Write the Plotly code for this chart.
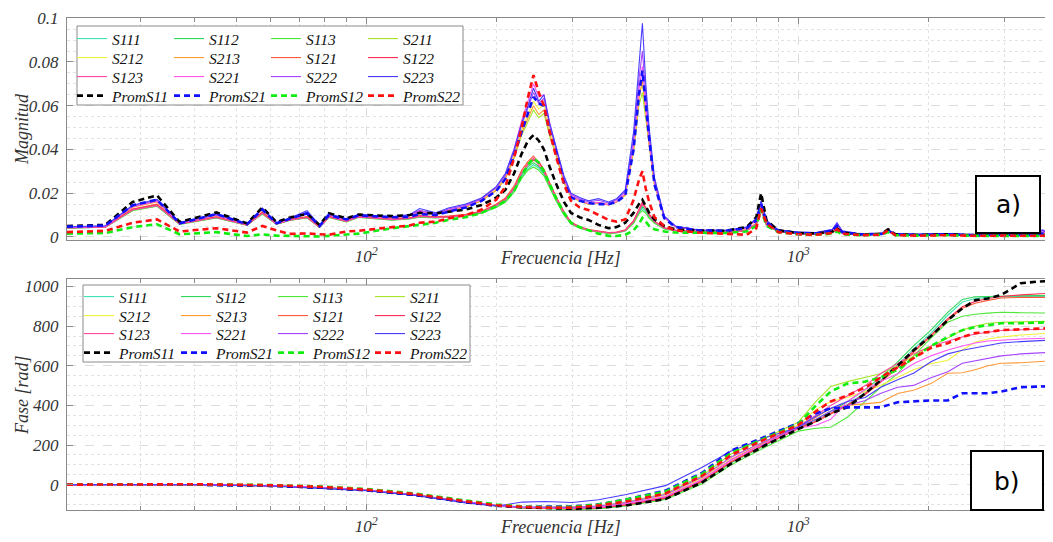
import math
import plotly.graph_objects as go

# ---------------- data ----------------
freq_mag = [20.3, 24.9, 28.8, 32.8, 37, 45, 53, 57.5, 62, 66.4,
            73, 78, 82, 90, 96, 115, 126, 133, 145, 155,
            170, 185, 200, 210, 220, 229, 237, 244, 251, 258,
            266, 275, 287, 298, 312, 327, 345, 364, 380, 398,
            416, 428, 436, 444, 452, 465, 490, 520, 588, 680,
            760, 800, 821, 845, 900, 1000, 1100, 1200, 1230, 1265,
            1400, 1560, 1615, 1680, 1900, 2200, 2600, 3000, 3400, 3680, 3870]

freq_ph = [20.3, 30, 40, 60, 80, 100, 130, 170, 200, 230, 260, 300, 345, 400, 493, 600, 700, 850,
           1000, 1100, 1190, 1300, 1430, 1550, 1700, 1850, 2030, 2220, 2400, 2570, 2750, 2950, 3280, 3600, 3870]

names = ["S111", "S112", "S113", "S211", "S212", "S213", "S121", "S122", "S123",
         "S221", "S222", "S223", "PromS11", "PromS21", "PromS12", "PromS22"]

mag_S111 = [0.0041, 0.0045, 0.0122, 0.0142, 0.0058, 0.0088, 0.0054, 0.0107, 0.0058, 0.0076,
            0.0088, 0.0044, 0.0090, 0.0070, 0.0090, 0.0078, 0.0083, 0.0092, 0.0088, 0.0090,
            0.0097, 0.0110, 0.0138, 0.0162, 0.0210, 0.0275, 0.0312, 0.0330, 0.0315, 0.0285,
            0.0228, 0.0170, 0.0104, 0.0061, 0.0042, 0.0030, 0.0023, 0.0017, 0.0019, 0.0028,
            0.0065, 0.0110, 0.0130, 0.0115, 0.0090, 0.0065, 0.0038, 0.0029, 0.0021, 0.0021,
            0.0029, 0.0058, 0.0125, 0.0053, 0.0024, 0.0015, 0.0013, 0.0019, 0.0033, 0.0017,
            0.0010, 0.0011, 0.0027, 0.0010, 0.0008, 0.0010, 0.0006, 0.0008, 0.0006, 0.0008, 0.0006]
mag_S112 = [0.0042, 0.0046, 0.0124, 0.0144, 0.0059, 0.0089, 0.0055, 0.0109, 0.0059, 0.0077,
            0.0089, 0.0045, 0.0091, 0.0071, 0.0091, 0.0079, 0.0084, 0.0094, 0.0089, 0.0091,
            0.0099, 0.0113, 0.0142, 0.0166, 0.0215, 0.0282, 0.0322, 0.0340, 0.0322, 0.0292,
            0.0234, 0.0175, 0.0107, 0.0063, 0.0044, 0.0031, 0.0024, 0.0018, 0.0020, 0.0029,
            0.0067, 0.0115, 0.0140, 0.0122, 0.0095, 0.0068, 0.0039, 0.0030, 0.0022, 0.0022,
            0.0030, 0.0059, 0.0128, 0.0054, 0.0025, 0.0015, 0.0014, 0.0020, 0.0034, 0.0018,
            0.0010, 0.0012, 0.0028, 0.0010, 0.0008, 0.0010, 0.0006, 0.0008, 0.0006, 0.0008, 0.0006]
mag_S113 = [0.0040, 0.0044, 0.0120, 0.0140, 0.0057, 0.0087, 0.0053, 0.0105, 0.0057, 0.0075,
            0.0087, 0.0043, 0.0089, 0.0069, 0.0089, 0.0077, 0.0082, 0.0090, 0.0087, 0.0089,
            0.0095, 0.0108, 0.0135, 0.0158, 0.0205, 0.0268, 0.0305, 0.0320, 0.0305, 0.0278,
            0.0222, 0.0166, 0.0101, 0.0059, 0.0040, 0.0029, 0.0022, 0.0016, 0.0018, 0.0027,
            0.0062, 0.0105, 0.0120, 0.0108, 0.0085, 0.0062, 0.0037, 0.0028, 0.0021, 0.0021,
            0.0028, 0.0056, 0.0122, 0.0052, 0.0024, 0.0014, 0.0013, 0.0019, 0.0032, 0.0017,
            0.0009, 0.0011, 0.0026, 0.0009, 0.0007, 0.0009, 0.0005, 0.0007, 0.0005, 0.0007, 0.0005]
mag_S211 = [0.0044, 0.0049, 0.0137, 0.0162, 0.0064, 0.0099, 0.0059, 0.0125, 0.0061, 0.0081,
            0.0107, 0.0051, 0.0099, 0.0077, 0.0097, 0.0087, 0.0097, 0.0117, 0.0103, 0.0122,
            0.0137, 0.0166, 0.0214, 0.0266, 0.0360, 0.0465, 0.0530, 0.0580, 0.0545, 0.0565,
            0.0460, 0.0375, 0.0248, 0.0183, 0.0163, 0.0150, 0.0154, 0.0146, 0.0160, 0.0190,
            0.0390, 0.0600, 0.0660, 0.0540, 0.0410, 0.0235, 0.0087, 0.0047, 0.0030, 0.0028,
            0.0039, 0.0078, 0.0155, 0.0068, 0.0029, 0.0019, 0.0018, 0.0029, 0.0055, 0.0024,
            0.0012, 0.0014, 0.0029, 0.0012, 0.0010, 0.0013, 0.0008, 0.0010, 0.0008, 0.0022, 0.0008]
mag_S212 = [0.0045, 0.0050, 0.0139, 0.0164, 0.0065, 0.0100, 0.0060, 0.0127, 0.0062, 0.0082,
            0.0109, 0.0052, 0.0100, 0.0078, 0.0098, 0.0088, 0.0098, 0.0119, 0.0105, 0.0124,
            0.0139, 0.0168, 0.0218, 0.0272, 0.0375, 0.0490, 0.0565, 0.0620, 0.0585, 0.0605,
            0.0490, 0.0395, 0.0258, 0.0188, 0.0168, 0.0154, 0.0158, 0.0149, 0.0163, 0.0196,
            0.0410, 0.0640, 0.0700, 0.0570, 0.0430, 0.0245, 0.0089, 0.0048, 0.0030, 0.0028,
            0.0040, 0.0079, 0.0158, 0.0069, 0.0030, 0.0020, 0.0018, 0.0030, 0.0057, 0.0025,
            0.0012, 0.0015, 0.0030, 0.0012, 0.0010, 0.0014, 0.0008, 0.0010, 0.0008, 0.0023, 0.0008]
mag_S213 = [0.0044, 0.0049, 0.0136, 0.0160, 0.0063, 0.0098, 0.0059, 0.0124, 0.0061, 0.0080,
            0.0106, 0.0050, 0.0098, 0.0076, 0.0096, 0.0086, 0.0096, 0.0116, 0.0102, 0.0121,
            0.0136, 0.0165, 0.0212, 0.0265, 0.0365, 0.0475, 0.0545, 0.0600, 0.0560, 0.0580,
            0.0470, 0.0380, 0.0250, 0.0185, 0.0165, 0.0150, 0.0155, 0.0146, 0.0160, 0.0192,
            0.0400, 0.0630, 0.0720, 0.0560, 0.0420, 0.0240, 0.0088, 0.0047, 0.0030, 0.0028,
            0.0039, 0.0078, 0.0155, 0.0068, 0.0029, 0.0019, 0.0018, 0.0029, 0.0055, 0.0024,
            0.0012, 0.0014, 0.0029, 0.0012, 0.0010, 0.0013, 0.0008, 0.0010, 0.0008, 0.0022, 0.0008]
mag_S121 = [0.0043, 0.0047, 0.0128, 0.0150, 0.0061, 0.0092, 0.0056, 0.0113, 0.0061, 0.0079,
            0.0093, 0.0046, 0.0094, 0.0073, 0.0094, 0.0082, 0.0087, 0.0098, 0.0092, 0.0095,
            0.0103, 0.0118, 0.0150, 0.0178, 0.0232, 0.0305, 0.0345, 0.0370, 0.0340, 0.0310,
            0.0248, 0.0185, 0.0115, 0.0068, 0.0047, 0.0034, 0.0027, 0.0020, 0.0022, 0.0033,
            0.0075, 0.0125, 0.0155, 0.0135, 0.0105, 0.0072, 0.0042, 0.0031, 0.0023, 0.0022,
            0.0031, 0.0062, 0.0135, 0.0057, 0.0026, 0.0016, 0.0014, 0.0021, 0.0036, 0.0018,
            0.0010, 0.0012, 0.0029, 0.0010, 0.0008, 0.0010, 0.0006, 0.0008, 0.0006, 0.0008, 0.0006]
mag_S122 = [0.0042, 0.0046, 0.0126, 0.0147, 0.0060, 0.0091, 0.0055, 0.0111, 0.0060, 0.0078,
            0.0091, 0.0045, 0.0093, 0.0072, 0.0093, 0.0081, 0.0086, 0.0096, 0.0091, 0.0093,
            0.0101, 0.0116, 0.0147, 0.0172, 0.0224, 0.0295, 0.0335, 0.0350, 0.0345, 0.0305,
            0.0242, 0.0182, 0.0112, 0.0066, 0.0046, 0.0033, 0.0026, 0.0019, 0.0021, 0.0031,
            0.0072, 0.0128, 0.0160, 0.0132, 0.0102, 0.0071, 0.0041, 0.0030, 0.0022, 0.0022,
            0.0030, 0.0061, 0.0132, 0.0056, 0.0025, 0.0015, 0.0014, 0.0020, 0.0035, 0.0018,
            0.0010, 0.0012, 0.0028, 0.0010, 0.0008, 0.0010, 0.0006, 0.0008, 0.0006, 0.0008, 0.0006]
mag_S123 = [0.0041, 0.0045, 0.0123, 0.0143, 0.0059, 0.0089, 0.0054, 0.0108, 0.0059, 0.0077,
            0.0089, 0.0044, 0.0091, 0.0071, 0.0091, 0.0079, 0.0084, 0.0094, 0.0089, 0.0091,
            0.0099, 0.0114, 0.0144, 0.0170, 0.0222, 0.0292, 0.0332, 0.0360, 0.0328, 0.0298,
            0.0238, 0.0178, 0.0109, 0.0064, 0.0044, 0.0031, 0.0024, 0.0018, 0.0020, 0.0030,
            0.0070, 0.0120, 0.0150, 0.0128, 0.0098, 0.0069, 0.0040, 0.0030, 0.0022, 0.0022,
            0.0030, 0.0060, 0.0128, 0.0055, 0.0025, 0.0015, 0.0014, 0.0020, 0.0034, 0.0018,
            0.0010, 0.0012, 0.0028, 0.0010, 0.0008, 0.0010, 0.0006, 0.0008, 0.0006, 0.0008, 0.0006]
mag_S221 = [0.0044, 0.0049, 0.0138, 0.0163, 0.0064, 0.0099, 0.0059, 0.0126, 0.0061, 0.0081,
            0.0108, 0.0051, 0.0099, 0.0077, 0.0097, 0.0087, 0.0097, 0.0118, 0.0104, 0.0123,
            0.0140, 0.0172, 0.0225, 0.0285, 0.0400, 0.0530, 0.0620, 0.0700, 0.0640, 0.0650,
            0.0520, 0.0410, 0.0265, 0.0190, 0.0168, 0.0152, 0.0158, 0.0148, 0.0162, 0.0198,
            0.0420, 0.0670, 0.0780, 0.0590, 0.0440, 0.0245, 0.0088, 0.0047, 0.0030, 0.0028,
            0.0040, 0.0080, 0.0158, 0.0070, 0.0030, 0.0020, 0.0018, 0.0030, 0.0058, 0.0025,
            0.0012, 0.0015, 0.0030, 0.0012, 0.0010, 0.0014, 0.0008, 0.0010, 0.0008, 0.0024, 0.0008]
mag_S222 = [0.0045, 0.0050, 0.0142, 0.0168, 0.0065, 0.0101, 0.0060, 0.0128, 0.0063, 0.0083,
            0.0112, 0.0052, 0.0102, 0.0079, 0.0099, 0.0090, 0.0100, 0.0122, 0.0106, 0.0128,
            0.0145, 0.0175, 0.0225, 0.0280, 0.0390, 0.0510, 0.0590, 0.0660, 0.0610, 0.0635,
            0.0510, 0.0410, 0.0270, 0.0195, 0.0175, 0.0160, 0.0168, 0.0155, 0.0170, 0.0208,
            0.0450, 0.0720, 0.0850, 0.0650, 0.0470, 0.0260, 0.0092, 0.0049, 0.0031, 0.0029,
            0.0042, 0.0082, 0.0162, 0.0072, 0.0031, 0.0021, 0.0019, 0.0032, 0.0060, 0.0026,
            0.0012, 0.0015, 0.0031, 0.0012, 0.0010, 0.0014, 0.0008, 0.0010, 0.0008, 0.0028, 0.0008]
mag_S223 = [0.0046, 0.0051, 0.0145, 0.0172, 0.0066, 0.0104, 0.0061, 0.0132, 0.0064, 0.0085,
            0.0120, 0.0054, 0.0108, 0.0080, 0.0104, 0.0092, 0.0102, 0.0130, 0.0110, 0.0132,
            0.0150, 0.0178, 0.0230, 0.0290, 0.0400, 0.0520, 0.0600, 0.0680, 0.0620, 0.0650,
            0.0520, 0.0420, 0.0280, 0.0200, 0.0180, 0.0165, 0.0175, 0.0160, 0.0175, 0.0215,
            0.0480, 0.0780, 0.0977, 0.0700, 0.0500, 0.0270, 0.0095, 0.0050, 0.0032, 0.0030,
            0.0045, 0.0085, 0.0165, 0.0075, 0.0032, 0.0022, 0.0020, 0.0035, 0.0065, 0.0028,
            0.0013, 0.0016, 0.0032, 0.0013, 0.0011, 0.0015, 0.0009, 0.0011, 0.0009, 0.0032, 0.0009]
mag_PromS11 = [0.0050, 0.0055, 0.0160, 0.0190, 0.0068, 0.0112, 0.0062, 0.0135, 0.0068, 0.0088,
               0.0105, 0.0055, 0.0108, 0.0085, 0.0102, 0.0095, 0.0100, 0.0110, 0.0108, 0.0115,
               0.0125, 0.0146, 0.0180, 0.0215, 0.0290, 0.0380, 0.0440, 0.0466, 0.0440, 0.0400,
               0.0320, 0.0245, 0.0160, 0.0110, 0.0090, 0.0078, 0.0055, 0.0040, 0.0045, 0.0065,
               0.0110, 0.0150, 0.0170, 0.0140, 0.0110, 0.0080, 0.0050, 0.0035, 0.0030, 0.0028,
               0.0045, 0.0090, 0.0200, 0.0075, 0.0030, 0.0018, 0.0016, 0.0025, 0.0040, 0.0020,
               0.0010, 0.0015, 0.0035, 0.0012, 0.0010, 0.0012, 0.0008, 0.0010, 0.0008, 0.0010, 0.0008]
mag_PromS21 = [0.0047, 0.0052, 0.0145, 0.0170, 0.0062, 0.0105, 0.0058, 0.0125, 0.0063, 0.0083,
               0.0108, 0.0050, 0.0100, 0.0080, 0.0098, 0.0090, 0.0092, 0.0105, 0.0100, 0.0115,
               0.0135, 0.0165, 0.0210, 0.0265, 0.0370, 0.0480, 0.0570, 0.0640, 0.0610, 0.0600,
               0.0480, 0.0390, 0.0250, 0.0180, 0.0165, 0.0155, 0.0150, 0.0150, 0.0160, 0.0190,
               0.0400, 0.0650, 0.0760, 0.0600, 0.0450, 0.0240, 0.0085, 0.0045, 0.0030, 0.0028,
               0.0040, 0.0075, 0.0150, 0.0065, 0.0028, 0.0018, 0.0016, 0.0028, 0.0050, 0.0022,
               0.0012, 0.0014, 0.0028, 0.0012, 0.0010, 0.0012, 0.0008, 0.0010, 0.0008, 0.0015, 0.0008]
mag_PromS12 = [0.0015, 0.0018, 0.0045, 0.0058, 0.0012, 0.0022, 0.0004, 0.0012, 0.0006, 0.0004,
               0.0003, 0.0002, 0.0005, 0.0010, 0.0015, 0.0040, 0.0050, 0.0055, 0.0065, 0.0078,
               0.0090, 0.0110, 0.0140, 0.0165, 0.0210, 0.0280, 0.0330, 0.0360, 0.0340, 0.0300,
               0.0240, 0.0180, 0.0110, 0.0065, 0.0045, 0.0030, 0.0015, 0.0005, 0.0004, 0.0010,
               0.0030, 0.0060, 0.0087, 0.0070, 0.0050, 0.0035, 0.0025, 0.0020, 0.0018, 0.0018,
               0.0025, 0.0050, 0.0125, 0.0050, 0.0022, 0.0012, 0.0010, 0.0015, 0.0025, 0.0012,
               0.0008, 0.0010, 0.0022, 0.0008, 0.0006, 0.0008, 0.0005, 0.0006, 0.0005, 0.0006, 0.0005]
mag_PromS22 = [0.0022, 0.0028, 0.0065, 0.0080, 0.0025, 0.0040, 0.0020, 0.0050, 0.0030, 0.0014,
               0.0016, 0.0012, 0.0010, 0.0025, 0.0028, 0.0045, 0.0052, 0.0065, 0.0070, 0.0085,
               0.0100, 0.0125, 0.0170, 0.0230, 0.0360, 0.0500, 0.0640, 0.0740, 0.0660, 0.0600,
               0.0480, 0.0370, 0.0240, 0.0165, 0.0135, 0.0123, 0.0100, 0.0078, 0.0070, 0.0080,
               0.0170, 0.0260, 0.0300, 0.0220, 0.0160, 0.0090, 0.0050, 0.0030, 0.0020, 0.0015,
               0.0010, 0.0040, 0.0130, 0.0060, 0.0022, 0.0012, 0.0010, 0.0018, 0.0035, 0.0015,
               0.0008, 0.0010, 0.0030, 0.0008, 0.0006, 0.0008, 0.0005, 0.0006, 0.0005, 0.0006, 0.0005]

ph_S111 = [0, 1, 0, -6, -16, -28, -52, -88, -106, -116, -120, -122, -120, -105, -72, 12, 110, 205,
           285, 322, 362, 405, 465, 525, 605, 685, 765, 855, 922, 940, 945, 948, 950, 950, 950]
ph_S112 = [0, 1, 0, -6, -16, -28, -53, -89, -107, -116, -120, -122, -120, -104, -70, 15, 112, 206,
           290, 330, 372, 418, 480, 540, 620, 700, 780, 870, 935, 948, 950, 952, 953, 955, 955]
ph_S113 = [0, 1, 0, -6, -17, -29, -54, -90, -108, -118, -122, -125, -122, -108, -75, 5, 100, 195,
           270, 285, 290, 340, 420, 490, 560, 650, 740, 820, 850, 860, 866, 870, 868, 866, 866]
ph_S211 = [0, 1, 1, -5, -15, -27, -50, -86, -104, -112, -114, -113, -108, -88, -45, 45, 155, 240,
           315, 420, 495, 520, 540, 560, 600, 650, 700, 740, 780, 800, 815, 820, 822, 824, 825]
ph_S212 = [0, 1, 0, -6, -16, -28, -52, -88, -106, -114, -117, -118, -112, -95, -55, 32, 138, 228,
           300, 380, 420, 440, 470, 500, 540, 580, 610, 628, 680, 719, 735, 745, 755, 760, 765]
ph_S213 = [0, 1, 0, -6, -16, -28, -52, -88, -106, -115, -118, -120, -115, -98, -62, 25, 128, 220,
           285, 340, 385, 400, 410, 415, 460, 476, 510, 562, 565, 580, 600, 613, 615, 620, 625]
ph_S121 = [0, 1, 0, -6, -16, -28, -52, -88, -106, -116, -119, -121, -118, -102, -68, 16, 114, 208,
           282, 318, 356, 398, 455, 515, 590, 668, 748, 830, 890, 916, 930, 942, 945, 945, 945]
ph_S122 = [0, 1, 0, -6, -16, -28, -52, -88, -106, -116, -119, -121, -118, -102, -68, 18, 116, 210,
           284, 320, 360, 402, 460, 520, 596, 675, 755, 838, 898, 925, 940, 950, 958, 962, 967]
ph_S123 = [0, 1, 0, -6, -16, -28, -52, -88, -106, -115, -118, -119, -115, -98, -62, 24, 125, 215,
           295, 350, 400, 450, 500, 560, 610, 660, 700, 725, 745, 760, 770, 778, 782, 784, 785]
ph_S221 = [0, 1, 0, -6, -16, -28, -52, -88, -106, -115, -117, -118, -114, -96, -60, 26, 126, 215,
           285, 300, 330, 420, 480, 520, 560, 610, 650, 680, 700, 715, 725, 730, 735, 738, 740]
ph_S222 = [0, 1, 0, -6, -16, -28, -52, -88, -106, -112, -114, -115, -108, -90, -50, 38, 140, 225,
           290, 330, 370, 400, 425, 460, 492, 501, 540, 570, 613, 625, 640, 650, 660, 665, 668]
ph_S223 = [0, 1, 0, -7, -18, -30, -55, -92, -108, -88, -85, -90, -76, -50, -5, 88, 170, 240,
           290, 345, 385, 420, 440, 490, 530, 562, 620, 660, 678, 690, 705, 715, 722, 726, 730]
ph_PromS11 = [0, 1, 0, -6, -16, -28, -52, -88, -106, -115, -118, -122, -117, -105, -73, 12, 106, 205,
              280, 320, 360, 390, 460, 526, 600, 678, 750, 830, 890, 931, 940, 957, 1017, 1025, 1028]
ph_PromS21 = [0, 1, 0, -6, -16, -28, -52, -88, -106, -112, -112, -110, -100, -75, -30, 60, 172, 245,
              310, 360, 385, 390, 390, 390, 416, 420, 425, 425, 461, 461, 461, 470, 492, 495, 497]
ph_PromS12 = [0, 2, 2, -2, -10, -22, -45, -80, -100, -110, -113, -112, -100, -75, -35, 55, 160, 240,
              305, 400, 470, 510, 520, 540, 580, 640, 700, 745, 780, 795, 805, 815, 815, 818, 820]
ph_PromS22 = [0, 2, 2, -3, -12, -25, -48, -84, -104, -112, -116, -116, -105, -85, -45, 45, 150, 235,
              300, 370, 420, 450, 490, 540, 590, 640, 690, 714, 745, 765, 770, 780, 785, 788, 790]

colors = ["#3fe3b5", "#2fd85a", "#4fe83a", "#a8e62e", "#f2f23a", "#ff9a35",
          "#ff5a3c", "#ff2f55", "#ff4aa0", "#ff55f5", "#a645ff", "#4a3cff",
          "#000000", "#1010ff", "#10ee10", "#ff1010"]

mags = [mag_S111, mag_S112, mag_S113, mag_S211, mag_S212, mag_S213, mag_S121, mag_S122, mag_S123,
        mag_S221, mag_S222, mag_S223, mag_PromS11, mag_PromS21, mag_PromS12, mag_PromS22]
phases = [ph_S111, ph_S112, ph_S113, ph_S211, ph_S212, ph_S213, ph_S121, ph_S122, ph_S123,
          ph_S221, ph_S222, ph_S223, ph_PromS11, ph_PromS21, ph_PromS12, ph_PromS22]

# ---------------- layout helpers ----------------
# The page body has an 8px margin, so the figure sits at (8, 8) in the window.
OFF = 8
W, H = 1053 - OFF, 542 - OFF
def px(x):
    return (x - OFF) / W
def py(y):
    return 1 - (y - OFF) / H

X0, X1 = 67, 1052
TOP = (18, 240)
BOT = (279, 510)
SERIF = "Liberation Serif"

fig = go.Figure()

top_rows = [38, 57, 76, 95]
bot_rows = [296, 315, 333, 352]

for i, name in enumerate(names):
    dashed = name.startswith("Prom")
    line = dict(color=colors[i], width=2.6 if dashed else 1.1, dash="6px,4px" if dashed else "solid")
    row = i // 4
    fig.add_trace(go.Scatter(x=freq_mag, y=mags[i], mode="lines", name=name, line=line,
                             xaxis="x", yaxis="y", legend="legend" if row == 0 else f"legend{row+1}"))
    fig.add_trace(go.Scatter(x=freq_ph, y=phases[i], mode="lines", name=name, line=line,
                             xaxis="x2", yaxis="y2", legend=f"legend{row+5}"))

legfont = dict(family=SERIF, size=15.5, style="italic", color="#111")
leg_layout = {}
for r in range(4):
    for panel, rows, x0 in ((0, top_rows, 72), (1, bot_rows, 79)):
        key = "legend" if (panel == 0 and r == 0) else f"legend{r + 1 + 4 * panel}"
        leg_layout[key] = dict(orientation="h", x=px(x0), y=py(rows[r] - 16), xanchor="left", yanchor="top",
                               bgcolor="rgba(0,0,0,0)", borderwidth=0, font=legfont,
                               entrywidth=52, entrywidthmode="pixels", itemwidth=30,
                               tracegroupgap=0)

axis_common = dict(showline=True, linecolor="#8a8a8a", linewidth=1, mirror="ticks",
                   ticks="inside", ticklen=6, tickcolor="#8a8a8a", zeroline=False,
                   tickfont=dict(family=SERIF, size=17, style="italic", color="#333"),
                   gridcolor="#dcdcdc", griddash="dash", gridwidth=1, showgrid=True)

minor_x = dict(tickmode="array",
               tickvals=[20, 30, 40, 50, 60, 70, 80, 90, 200, 300, 400, 500, 600, 700, 800, 900, 2000, 3000],
               ticks="inside", ticklen=4, tickcolor="#8a8a8a",
               showgrid=True, gridcolor="#e2e2e2", griddash="dot", gridwidth=1)

xr = [math.log10(20.3), math.log10(3870)]
xcommon = dict(type="log", range=xr, domain=[px(X0), px(X1)], tickmode="array",
               tickvals=[100, 1000], ticktext=["10<sup>2</sup>", "10<sup>3</sup>"],
               minor=minor_x, ticklabelstandoff=1, **axis_common)

fig.update_layout(
    width=W, height=H, margin=dict(l=0, r=0, t=0, b=0, autoexpand=False),
    paper_bgcolor="white", plot_bgcolor="white", showlegend=True,
    xaxis=dict(anchor="y", **xcommon),
    xaxis2=dict(anchor="y2", **xcommon),
    yaxis=dict(anchor="x", domain=[py(TOP[1]), py(TOP[0])], range=[-0.0014, 0.1001],
               tickmode="linear", tick0=0, dtick=0.02, ticklabelstandoff=4,
               minor=dict(dtick=0.005, tick0=0, showgrid=True, gridcolor="#e2e2e2", griddash="dot", ticks=""),
               **axis_common),
    yaxis2=dict(anchor="x2", domain=[py(BOT[1]), py(BOT[0])], range=[-128, 1038],
                tickmode="linear", tick0=0, dtick=200, ticklabelstandoff=4,
                minor=dict(dtick=50, tick0=0, showgrid=True, gridcolor="#e2e2e2", griddash="dot", ticks=""),
                **axis_common),
    **leg_layout,
)

shapes = [
    dict(type="rect", xref="paper", yref="paper", x0=px(77), x1=px(463), y0=py(105), y1=py(26),
         line=dict(color="#8a8a8a", width=1), fillcolor="white", layer="above"),
    dict(type="rect", xref="paper", yref="paper", x0=px(83), x1=px(470), y0=py(362), y1=py(285),
         line=dict(color="#8a8a8a", width=1), fillcolor="white", layer="above"),
    dict(type="rect", xref="paper", yref="paper", x0=px(976), x1=px(1040), y0=py(233), y1=py(176),
         line=dict(color="black", width=2), fillcolor="white", layer="above"),
    dict(type="rect", xref="paper", yref="paper", x0=px(971), x1=px(1043), y0=py(510), y1=py(451),
         line=dict(color="black", width=2), fillcolor="white", layer="above"),
]

title_font = dict(family=SERIF, size=18, style="italic", color="#333")
def note(text, x, y, font, angle=0):
    return dict(text=text, x=px(x), y=py(y), xref="paper", yref="paper", textangle=angle,
                xanchor="center", yanchor="middle", showarrow=False, font=font)

box_font = dict(family="DejaVu Sans", size=25, color="black")
annotations = [
    note("Magnitud", 22, 129, title_font, -90),
    note("Fase [rad]", 22, 395, title_font, -90),
    note("Frecuencia [Hz]", 560, 258, title_font),
    note("Frecuencia [Hz]", 560, 527, title_font),
    note("a)", 1008, 204, box_font),
    note("b)", 1007, 481, box_font),
]
fig.update_layout(shapes=shapes, annotations=annotations)

fig.write_html("out.html")
